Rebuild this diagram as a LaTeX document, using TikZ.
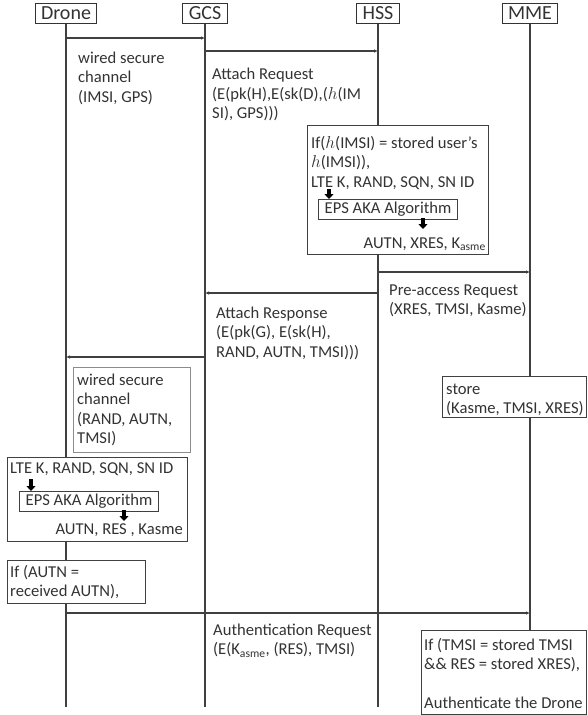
\documentclass[tikz,border=0pt]{standalone}
\usepackage{fontspec}
\setmainfont{Carlito}
\usetikzlibrary{arrows.meta}

\begin{document}
\begin{tikzpicture}[x=1pt, y=-1pt, head/.style={draw=black!80, line width=1pt, font=\fontsize{20}{22}\selectfont, text=black!80, inner xsep=6pt, inner ysep=0pt, minimum height=20pt}, life/.style={line width=1.1pt, draw=black!75}, msg/.style={-{Latex[length=4pt,width=3.5pt]}, line width=1.1pt, draw=black!75}, box/.style={draw=black!75, line width=1pt, fill=white, anchor=north west, inner sep=0pt}, txt/.style={font=\fontsize{16.6}{19.5}\selectfont, text=black!80, align=left, inner sep=0pt, anchor=base west}, blk/.style={-{Triangle[width=9pt,length=5pt]}, line width=3.5pt}]
\useasboundingbox (0,0) rectangle (587,715);

% lifelines
\node[head] (drone) at (66,13) {Drone};
\node[head] (gcs) at (205,13) {GCS};
\node[head] (hss) at (378,13) {HSS};
\node[head] (mme) at (530,13) {MME};
\coordinate (droneend) at (66,707); \coordinate (gcsend) at (205,707); \coordinate (hssend) at (378,707); \coordinate (mmeend) at (530,630);
\draw[life] (drone) -- (droneend);
\draw[life] (gcs) -- (gcsend);
\draw[life] (hss) -- (hssend);
\draw[life] (mme) -- (mmeend);

% messages (text nodes sit on the baseline of their last line)
\coordinate (m1a) at (66,38); \coordinate (m1b) at (205,38);
\coordinate (m2a) at (205,51); \coordinate (m2b) at (378,51);
\coordinate (m3a) at (378,272); \coordinate (m3b) at (530,272);
\coordinate (m4a) at (378,293); \coordinate (m4b) at (205,293);
\coordinate (m5a) at (205,357); \coordinate (m5b) at (66,357);
\coordinate (m6a) at (66,613); \coordinate (m6b) at (530,613);
\draw[msg] (m1a) -- (m1b);
\draw[msg] (m2a) -- (m2b);
\draw[msg] (m3a) -- (m3b);
\draw[msg] (m4a) -- (m4b);
\draw[msg] (m5a) -- (m5b);
\draw[msg] (m6a) -- (m6b);

\node[txt] (wired1) at (78,102) {wired secure\\channel\\(IMSI, GPS)};
\node[txt] (attreq) at (212,118.5) {Attach Request\\(E(pk(H),E(sk(D),($h$(IM\\SI), GPS)))};
\node[txt] (preacc) at (389,314.5) {Pre-access Request\\(XRES, TMSI, Kasme)};
\node[txt] (attres) at (216,357) {Attach Response\\(E(pk(G), E(sk(H),\\RAND, AUTN, TMSI)))};
\node[txt] (authreq) at (213,654.5) {Authentication Request\\(E(K\textsubscript{asme}, (RES), TMSI)};

% HSS check
\node[box, minimum width=181, minimum height=129] (hssbox) at (307,125) {};
\node[txt] (hsscond) at (311,187) {If($h$(IMSI) = stored user’s\\$h$(IMSI)),\\LTE K, RAND, SQN, SN ID};
\node[box, minimum width=139, minimum height=20, font=\fontsize{16.6}{19.5}\selectfont, text=black!80] (hssalg) at (318,199) {EPS AKA Algorithm};
\node[txt, anchor=base east] (hssout) at (486,248) {AUTN, XRES, K\textsubscript{asme}};
\coordinate (h1a) at (329,189); \coordinate (h1b) at (329,199);
\coordinate (h2a) at (423,218); \coordinate (h2b) at (423,229);
\draw[blk] (h1a) -- (h1b);
\draw[blk] (h2a) -- (h2b);

% Drone side
\node[box, draw=black!45, minimum width=117, minimum height=85] (wired2box) at (73,367) {};
\node[txt] (wired2) at (77,443.5) {wired secure\\channel\\(RAND, AUTN,\\TMSI)};
\node[box, minimum width=180, minimum height=84] (dronebox) at (7,457) {};
\node[txt] (dronein) at (10,473) {LTE K, RAND, SQN, SN ID};
\node[box, minimum width=139, minimum height=20, font=\fontsize{16.6}{19.5}\selectfont, text=black!80] (dronealg) at (19,491) {EPS AKA Algorithm};
\node[txt, anchor=base east] (droneout) at (183,534) {AUTN, RES , Kasme};
\coordinate (d1a) at (31,479); \coordinate (d1b) at (31,491);
\coordinate (d2a) at (124,510); \coordinate (d2b) at (124,521);
\draw[blk] (d1a) -- (d1b);
\draw[blk] (d2a) -- (d2b);
\node[box, minimum width=138, minimum height=43] (checkbox) at (7,560) {};
\node[txt] (check) at (10,596.5) {If (AUTN =\\received AUTN),};

% MME side
\node[box, minimum width=144, minimum height=41] (storebox) at (442,376) {};
\node[txt] (store) at (446,413.5) {store\\(Kasme, TMSI, XRES)};
\node[box, minimum width=165, minimum height=84] (finalbox) at (421,630) {};
\node[txt] (final) at (424,708.5) {If (TMSI = stored TMSI\\\&\& RES = stored XRES),\\\mbox{}\\Authenticate the Drone};
\end{tikzpicture}
\end{document}
